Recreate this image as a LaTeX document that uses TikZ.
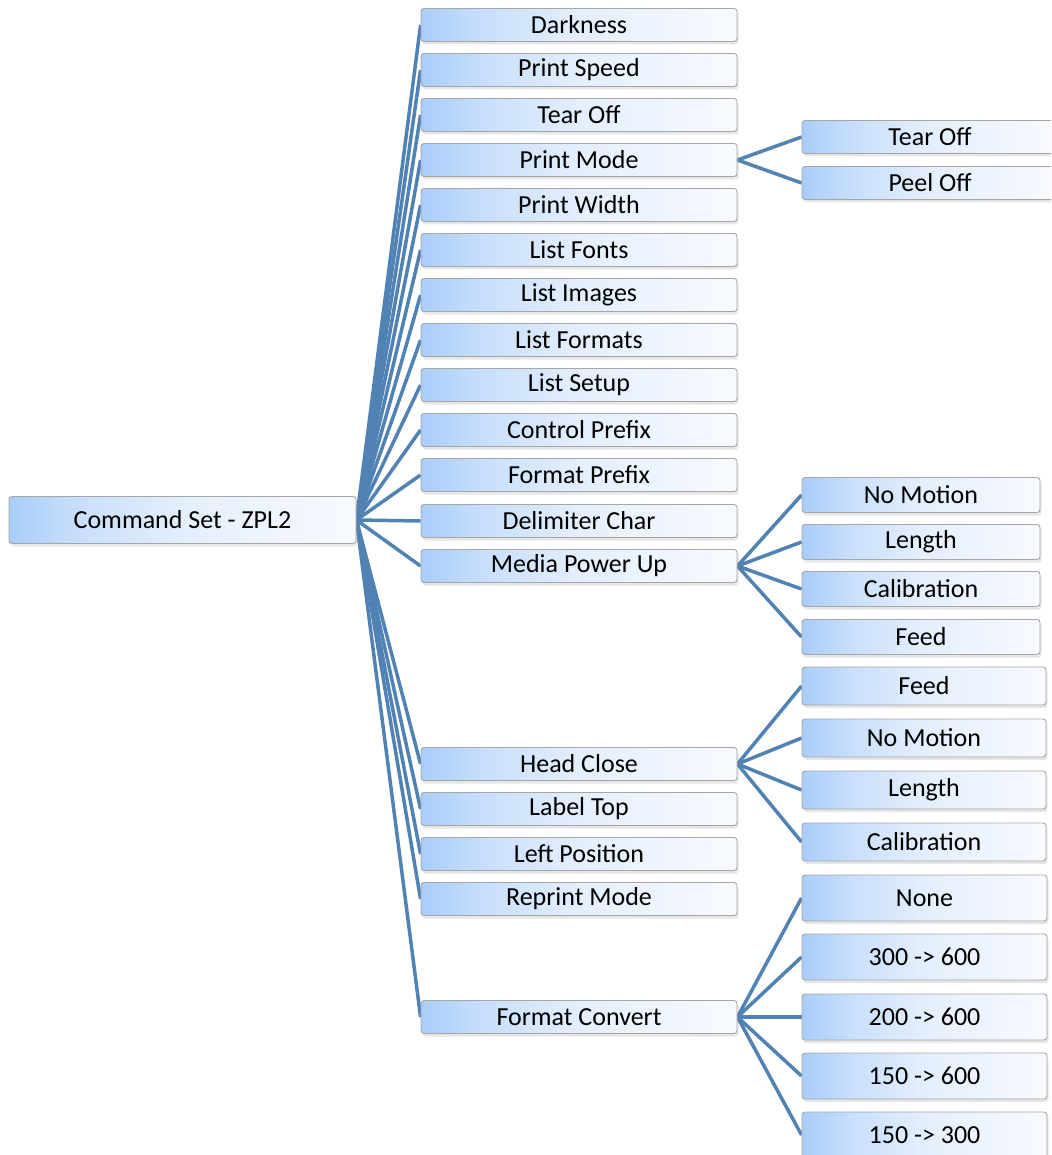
\documentclass[tikz,border=0pt]{standalone}
\usepackage{fontspec}
\setmainfont{Carlito}
\usepackage{xcolor}
\usepackage{tikz}
\usetikzlibrary{shadows,backgrounds}
\definecolor{boxblue}{RGB}{168,205,250}
\definecolor{boxwhite}{RGB}{248,250,254}
\definecolor{linkblue}{RGB}{80,130,180}
\pgfdeclarehorizontalshading{boxfade}{100bp}{
  color(0bp)=(boxblue); color(25bp)=(boxblue);
  color(35bp)=(boxblue!60!boxwhite); color(50bp)=(boxblue!25!boxwhite);
  color(75bp)=(boxwhite); color(100bp)=(boxwhite)}
\tikzset{
  item/.style={
    rectangle, rounded corners=3pt,
    draw=gray!70, line width=0.9pt,
    shading=boxfade, shading angle=0,
    minimum width=#1, minimum height=33pt,
    font=\fontsize{26}{29}\selectfont, inner sep=0pt,
    drop shadow={shadow xshift=1.5pt, shadow yshift=-3pt, opacity=0.2}},
  item/.default=316pt,
  link/.style={draw=linkblue, line width=3.5pt},
}

\begin{document}
\begin{tikzpicture}[x=1pt, y=-1pt]
  \path[use as bounding box, clip] (0,0) rectangle (1051,1155);
  % root
  \node[item=347pt, minimum height=47pt] (cmdset) at (182.5,520) {Command Set - ZPL2};
  % first level
  \node[item] (darkness)   at (579,25)   {Darkness};
  \node[item] (speed)      at (579,70)   {Print Speed};
  \node[item] (tearoff)    at (579,115)  {Tear Off};
  \node[item] (printmode)  at (579,160)  {Print Mode};
  \node[item] (printwidth) at (579,205)  {Print Width};
  \node[item] (fonts)      at (579,250)  {List Fonts};
  \node[item] (images)     at (579,295)  {List Images};
  \node[item] (formats)    at (579,340)  {List Formats};
  \node[item] (setup)      at (579,385)  {List Setup};
  \node[item] (ctrlprefix) at (579,430)  {Control Prefix};
  \node[item] (fmtprefix)  at (579,475)  {Format Prefix};
  \node[item] (delim)      at (579,521)  {Delimiter Char};
  \node[item] (mediapwr)   at (579,566)  {Media Power Up};
  \node[item] (headclose)  at (579,764)  {Head Close};
  \node[item] (labeltop)   at (579,809)  {Label Top};
  \node[item] (leftpos)    at (579,854)  {Left Position};
  \node[item] (reprint)    at (579,899)  {Reprint Mode};
  \node[item] (fmtconv)    at (579,1017) {Format Convert};
  % print mode
  \node[item=256pt] (pmtear) at (930,137) {Tear Off};
  \node[item=256pt] (pmpeel) at (930,183) {Peel Off};
  % media power up
  \node[item=238pt, minimum height=35pt] (mpnomotion) at (921,495) {No Motion};
  \node[item=238pt, minimum height=35pt] (mplength)   at (921,542) {Length};
  \node[item=238pt, minimum height=35pt] (mpcalib)    at (921,589) {Calibration};
  \node[item=238pt, minimum height=35pt] (mpfeed)     at (921,637) {Feed};
  % head close
  \node[item=244pt, minimum height=38pt] (hcfeed)     at (924,686) {Feed};
  \node[item=244pt, minimum height=38pt] (hcnomotion) at (924,738) {No Motion};
  \node[item=244pt, minimum height=38pt] (hclength)   at (924,790) {Length};
  \node[item=244pt, minimum height=38pt] (hccalib)    at (924,842) {Calibration};
  % format convert
  \node[item=245pt, minimum height=46pt] (fcnone)   at (924.5,898)  {None};
  \node[item=245pt, minimum height=46pt] (fcthree)  at (924.5,957)  {300 -> 600};
  \node[item=245pt, minimum height=46pt] (fctwo)    at (924.5,1017) {200 -> 600};
  \node[item=245pt, minimum height=46pt] (fconeA)   at (924.5,1076) {150 -> 600};
  \node[item=245pt, minimum height=46pt] (fconeB)   at (924.5,1135) {150 -> 300};
  \begin{scope}[on background layer]
    \draw[link] (cmdset.east) -- (darkness.west);
    \draw[link] (cmdset.east) -- (speed.west);
    \draw[link] (cmdset.east) -- (tearoff.west);
    \draw[link] (cmdset.east) -- (printmode.west);
    \draw[link] (cmdset.east) -- (printwidth.west);
    \draw[link] (cmdset.east) -- (fonts.west);
    \draw[link] (cmdset.east) -- (images.west);
    \draw[link] (cmdset.east) -- (formats.west);
    \draw[link] (cmdset.east) -- (setup.west);
    \draw[link] (cmdset.east) -- (ctrlprefix.west);
    \draw[link] (cmdset.east) -- (fmtprefix.west);
    \draw[link] (cmdset.east) -- (delim.west);
    \draw[link] (cmdset.east) -- (mediapwr.west);
    \draw[link] (cmdset.east) -- (headclose.west);
    \draw[link] (cmdset.east) -- (labeltop.west);
    \draw[link] (cmdset.east) -- (leftpos.west);
    \draw[link] (cmdset.east) -- (reprint.west);
    \draw[link] (cmdset.east) -- (fmtconv.west);
    \draw[link] (printmode.east) -- (pmtear.west);
    \draw[link] (printmode.east) -- (pmpeel.west);
    \draw[link] (mediapwr.east) -- (mpnomotion.west);
    \draw[link] (mediapwr.east) -- (mplength.west);
    \draw[link] (mediapwr.east) -- (mpcalib.west);
    \draw[link] (mediapwr.east) -- (mpfeed.west);
    \draw[link] (headclose.east) -- (hcfeed.west);
    \draw[link] (headclose.east) -- (hcnomotion.west);
    \draw[link] (headclose.east) -- (hclength.west);
    \draw[link] (headclose.east) -- (hccalib.west);
    \draw[link] (fmtconv.east) -- (fcnone.west);
    \draw[link] (fmtconv.east) -- (fcthree.west);
    \draw[link] (fmtconv.east) -- (fctwo.west);
    \draw[link] (fmtconv.east) -- (fconeA.west);
    \draw[link] (fmtconv.east) -- (fconeB.west);
  \end{scope}
\end{tikzpicture}
\end{document}
